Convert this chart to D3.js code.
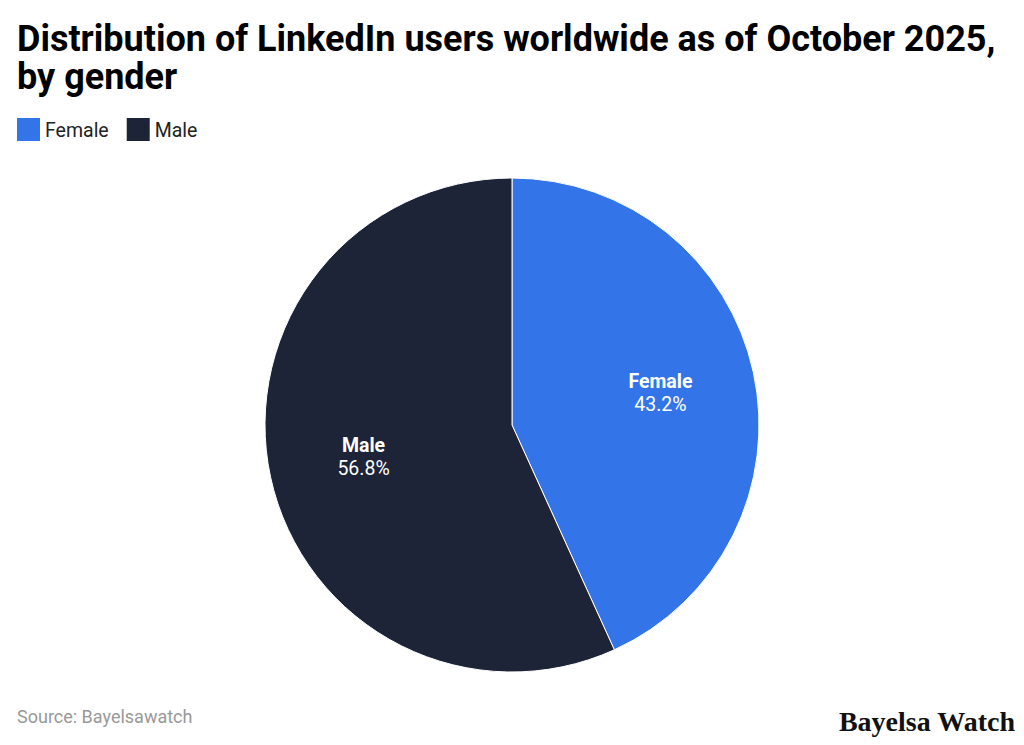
<!DOCTYPE html>
<html lang="en">
<head>
    <meta charset="UTF-8">
    <title>Distribution of LinkedIn users worldwide by gender</title>
    <script src="https://d3js.org/d3.v7.min.js"></script>
    <style>
        body {
            margin: 0;
            background-color: #fff;
            font-family: Roboto, Arial, sans-serif;
        }
        svg {
            display: block;
        }
    </style>
</head>
<body>
    <svg width="1024" height="745"></svg>

    <script>
        const categories = ["Female", "Male"];
        const shares = [43.2, 56.8];
        const colors = ["#3375e8", "#1d2438"];

        const svg = d3.select("svg");

        // Title
        const title = svg.append("text")
            .attr("x", 17)
            .attr("y", 51)
            .style("font-family", "Roboto")
            .style("font-weight", "bold")
            .style("font-size", "36px")
            .style("fill", "#000");
        title.append("tspan").attr("x", 17).text("Distribution of LinkedIn users worldwide as of October 2025,");
        title.append("tspan").attr("x", 17).attr("dy", 38).text("by gender");

        // Legend
        const legend = svg.append("g").attr("transform", "translate(17,118)");
        let lx = 0;
        categories.forEach((c, i) => {
            const item = legend.append("g").attr("transform", `translate(${lx},0)`);
            item.append("rect")
                .attr("width", 23)
                .attr("height", 23)
                .attr("fill", colors[i]);
            const t = item.append("text")
                .attr("x", 28)
                .attr("y", 19)
                .style("font-size", "19.5px")
                .style("fill", "#222")
                .text(c);
            lx += 28 + t.node().getComputedTextLength() + 18;
        });

        // Pie
        const cx = 512, cy = 425, radius = 247;
        const g = svg.append("g").attr("transform", `translate(${cx},${cy})`);
        const data = categories.map((c, i) => ({ name: c, value: shares[i], color: colors[i] }));

        const pie = d3.pie().value(d => d.value).sort(null);
        const arc = d3.arc().innerRadius(0).outerRadius(radius);
        const labelArc = d3.arc().innerRadius(radius * 0.615).outerRadius(radius * 0.615);

        const arcs = pie(data);

        g.selectAll("path").data(arcs).enter()
            .append("path")
            .attr("d", arc)
            .attr("fill", d => d.data.color)
            .attr("stroke", "#fff")
            .attr("stroke-width", 1);

        const labels = g.selectAll(".label").data(arcs).enter()
            .append("text")
            .attr("class", "label")
            .attr("transform", d => `translate(${labelArc.centroid(d)})`)
            .attr("text-anchor", "middle")
            .style("fill", "#fff")
            .style("font-size", "19.5px");
        labels.append("tspan")
            .attr("x", 0)
            .attr("y", -5)
            .style("font-weight", "bold")
            .text(d => d.data.name);
        labels.append("tspan")
            .attr("x", 0)
            .attr("dy", 23)
            .text(d => d.data.value.toFixed(1) + "%");

        // Source
        svg.append("text")
            .attr("x", 17)
            .attr("y", 723)
            .style("font-size", "18px")
            .style("fill", "#999")
            .text("Source: Bayelsawatch");

        // Watermark
        svg.append("text")
            .attr("x", 1015)
            .attr("y", 731)
            .attr("text-anchor", "end")
            .style("font-family", "'Liberation Serif', 'DejaVu Serif', serif")
            .style("font-weight", "bold")
            .style("font-size", "28px")
            .style("fill", "#111")
            .text("Bayelsa Watch");
    </script>
</body>
</html>
